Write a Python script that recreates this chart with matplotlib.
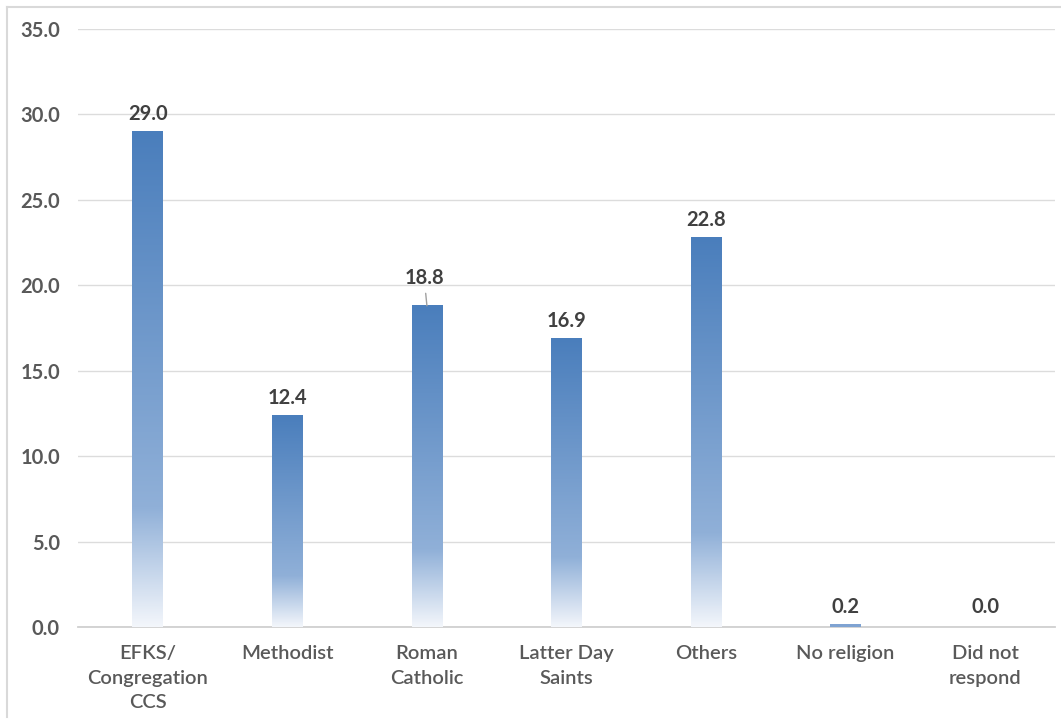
import numpy as np
import matplotlib
matplotlib.use("Agg")
import matplotlib.pyplot as plt
from matplotlib.colors import LinearSegmentedColormap
from matplotlib.lines import Line2D

categories = ["EFKS/\nCongregation\nCCS", "Methodist", "Roman\nCatholic",
              "Latter Day\nSaints", "Others", "No religion", "Did not\nrespond"]
values = [29.0, 12.4, 18.8, 16.9, 22.8, 0.2, 0.0]
yticks = [0, 5, 10, 15, 20, 25, 30, 35]

plt.rcParams['font.family'] = ['Lato', 'DejaVu Sans']

fig = plt.figure(figsize=(10.61, 7.19), dpi=100)
ax = fig.add_axes([78/1061, 92/719, 977/1061, 598/719])

x = np.arange(len(categories))
width = 0.22
bars = ax.bar(x, values, width=width, color='none', edgecolor='none', zorder=3)

cmap = LinearSegmentedColormap.from_list(
    "grad", [(0.0, "#f3f6fb"), (0.24, "#90b0d8"), (1.0, "#4a7ebc")])
grad = np.linspace(0, 1, 256).reshape(-1, 1)
for b in bars:
    h = b.get_height()
    if h <= 0:
        continue
    x0 = b.get_x()
    if h < 1:
        ax.bar(b.get_x() + width/2, h, width=width, color="#7fa3d2", zorder=3)
        continue
    ax.imshow(grad, extent=[x0, x0 + width, 0, h], origin='lower',
              cmap=cmap, aspect='auto', zorder=3, interpolation='bilinear')

ax.set_xlim(-0.5, len(categories) - 0.5)
ax.set_ylim(0, 35)
ax.set_yticks(yticks)
ax.set_yticklabels([f"{v:.1f}" for v in yticks])
ax.set_xticks(x)
ax.set_xticklabels(categories, linespacing=1.55)

for s in ['top', 'right', 'left']:
    ax.spines[s].set_visible(False)
ax.spines['bottom'].set_color('#d0d0d0')
ax.spines['bottom'].set_linewidth(1.3)
ax.grid(axis='y', color='#dcdcdc', linewidth=1.0, zorder=0)
ax.set_axisbelow(True)
ax.tick_params(axis='both', length=0, colors='#595959', labelsize=14.5)
ax.tick_params(axis='y', pad=13)
ax.tick_params(axis='x', pad=13)
for lab in ax.get_yticklabels():
    lab.set_fontweight('bold')
for lab in ax.get_xticklabels():
    lab.set_fontweight('semibold')

for i, v in enumerate(values):
    if i == 2:
        ax.annotate(f"{v:.1f}", xy=(i, v), xytext=(i - 0.02, v + 1.64),
                    ha='center', va='center', fontsize=14.5, fontweight='bold',
                    color='#404040', zorder=5,
                    arrowprops=dict(arrowstyle='-', color='#a0a0a0', lw=1.0,
                                    shrinkA=2, shrinkB=0))
    else:
        off = 1.0 if v >= 1 else 1.15 - v
        ax.text(i, v + off, f"{v:.1f}", ha='center', va='center',
                fontsize=14.5, fontweight='bold', color='#404040', zorder=5)

# figure border (top and left)
fig.add_artist(Line2D([7/1061, 1.0], [1 - 7/719, 1 - 7/719],
                      transform=fig.transFigure, color='#d9d9d9', lw=1.5))
fig.add_artist(Line2D([7/1061, 7/1061], [1 - 7/719, 2/719],
                      transform=fig.transFigure, color='#d9d9d9', lw=1.5))

fig.savefig("out.png", dpi=100)
